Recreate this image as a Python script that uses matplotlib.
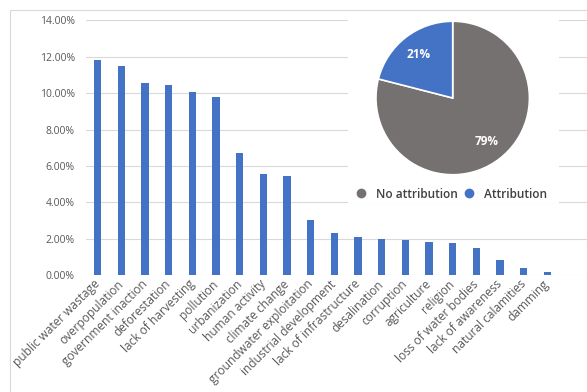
import numpy as np
import matplotlib
matplotlib.use("Agg")
import matplotlib.pyplot as plt
import matplotlib.patches as mpatches
from matplotlib.lines import Line2D

# ---- data ----
causes = [
    "public water wastage", "overpopulation", "government inaction",
    "deforestation", "lack of harvesting", "pollution", "urbanization",
    "human activity", "climate change", "groundwater exploitation",
    "industrial development", "lack of infrastructure", "desalination",
    "corruption", "agriculture", "religion", "loss of water bodies",
    "lack of awareness", "natural calamities", "damming",
]
shares = [11.81, 11.49, 10.54, 10.43, 10.07, 9.79, 6.72, 5.58, 5.45, 3.04,
          2.32, 2.09, 1.98, 1.94, 1.85, 1.77, 1.50, 0.84, 0.40, 0.18]

pie_labels = ["No attribution", "Attribution"]
pie_values = [79, 21]

BLUE = "#4472C4"
GREY = "#767171"
TEXT = "#595959"

plt.rcParams["font.family"] = ["Open Sans", "DejaVu Sans"]

W, H = 587, 392
fig = plt.figure(figsize=(W / 100, H / 100), dpi=100)

# light frame around the chart area
fig.patches.append(mpatches.Rectangle((10 / W, -0.1), 1.2, 1 - 10 / H + 0.1,
                                      transform=fig.transFigure, fill=False,
                                      edgecolor="#D9D9D9", linewidth=0.8))

# ---- bar chart ----
step = 23.66   # px per category
ax = fig.add_axes([86 / W, (H - 275.3) / H, 501 / W, 255 / H])
x = np.arange(len(causes))
ax.bar(x, shares, width=0.31, color=BLUE, zorder=3)
ax.set_xlim(-0.5, -0.5 + 501 / step)
ax.set_ylim(0, 14)
ax.set_yticks(np.arange(0, 15, 2))
ax.set_yticklabels([f"{v:.2f}%" for v in np.arange(0, 15, 2)])
ax.yaxis.grid(True, color="#D9D9D9", linewidth=0.8, zorder=0)
ax.set_axisbelow(True)
for s in ax.spines.values():
    s.set_visible(False)
ax.tick_params(axis="y", length=0, pad=8, labelsize=7.5, labelcolor=TEXT)
ax.tick_params(axis="x", length=0, pad=5, labelsize=8.6, labelcolor=TEXT)
ax.set_xticks(x)
ax.set_xticklabels(causes, rotation=45, ha="right", va="center",
                   rotation_mode="anchor")

# ---- pie inset ----
box = fig.add_axes([348 / W, (H - 203) / H, 211 / W, 183 / H])
box.set_facecolor("white")
box.set_xticks([]); box.set_yticks([])
for s in box.spines.values():
    s.set_visible(False)

cx, cy, r = 452.7, 98, 77.5
pax = fig.add_axes([(cx - r) / W, (H - cy - r) / H, 2 * r / W, 2 * r / H])
wedges, _, autotexts = pax.pie(
    pie_values, colors=[GREY, BLUE], startangle=90, counterclock=False,
    autopct="%d%%", pctdistance=0.72,
    wedgeprops=dict(edgecolor="white", linewidth=1.2),
    textprops=dict(color="white", fontsize=8.5, fontweight="bold"),
)
pax.set_xlim(-1.01, 1.01)
pax.set_ylim(-1.01, 1.01)

handles = [Line2D([], [], marker="o", linestyle="", markersize=6,
                  markerfacecolor=c, markeredgecolor=c)
           for c in (GREY, BLUE)]
fig.legend(handles, pie_labels, loc="center", ncol=2,
           bbox_to_anchor=(451 / W, (H - 194) / H), frameon=False,
           labelcolor="#404040", handlelength=1.0, handletextpad=0.75,
           columnspacing=0.4, prop=dict(weight="semibold", size=8.6))

fig.savefig("out.png", dpi=100)
